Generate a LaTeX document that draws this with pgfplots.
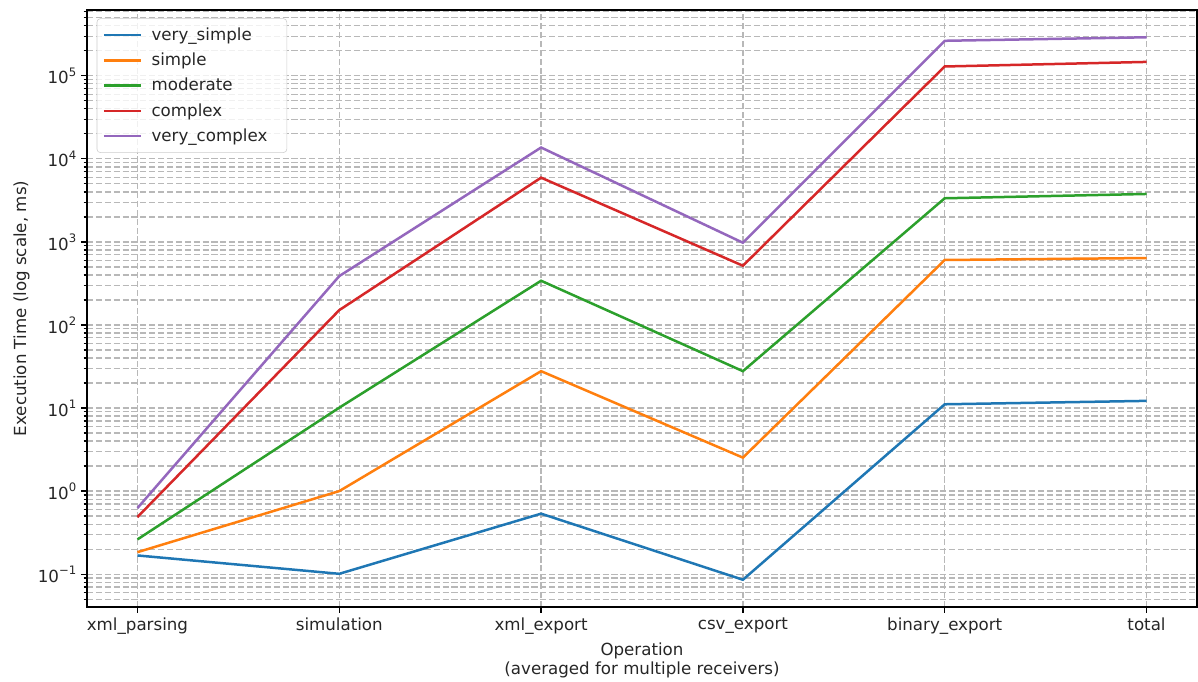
\documentclass[border=0pt]{standalone}
\usepackage{fontspec}
\setmainfont{DejaVu Sans}
\usepackage{pgfplots}
\pgfplotsset{compat=1.18}

\definecolor{c1}{HTML}{1F77B4}
\definecolor{c2}{HTML}{FF7F0E}
\definecolor{c3}{HTML}{2CA02C}
\definecolor{c4}{HTML}{D62728}
\definecolor{c5}{HTML}{9467BD}
\definecolor{gridc}{HTML}{B8B8B8}

\newcommand{\pw}[1]{10\raisebox{0.85ex}{\fontsize{8.4}{9}\selectfont #1}}

\begin{document}
\begin{tikzpicture}
\begin{axis}[
  at={(0,0)}, anchor=south west,
  scale only axis,
  width=799.2pt, height=429.8pt,
  ymode=log,
  xmin=-0.25, xmax=5.25,
  ymin=0.0403, ymax=6.2e5,
  xtick={0,1,2,3,4,5},
  xticklabels={xml\_parsing,simulation,xml\_export,csv\_export,binary\_export,total},
  ytick={0.1,1,10,100,1000,10000,100000},
  yticklabels={\pw{−1},\pw{0},\pw{1},\pw{2},\pw{3},\pw{4},\pw{5}},
  minor ytick={0.05,0.06,0.07,0.08,0.09,
    0.2,0.3,0.4,0.5,0.6,0.7,0.8,0.9,
    2,3,4,5,6,7,8,9,
    20,30,40,50,60,70,80,90,
    200,300,400,500,600,700,800,900,
    2000,3000,4000,5000,6000,7000,8000,9000,
    20000,30000,40000,50000,60000,70000,80000,90000,
    200000,300000,400000,500000,600000},
  tick pos=left,
  tick align=outside,
  major tick length=4.2pt,
  minor tick length=2.4pt,
  every tick/.style={black, line width=0.9pt},
  axis line style={line width=0.9pt},
  grid=both,
  major grid style={gridc, line width=0.9pt, dash pattern=on 4.4pt off 2pt},
  minor grid style={gridc, line width=0.9pt, dash pattern=on 4.4pt off 2pt},
  tick label style={font=\fontsize{12}{14}\selectfont, text=black!85},
  label style={font=\fontsize{12}{14}\selectfont, text=black!85},
  xlabel={Operation\\(averaged for multiple receivers)},
  xlabel style={align=center, yshift=1pt},
  ylabel={Execution Time (log scale, ms)},
  ylabel style={yshift=-1pt},
  legend cell align=left,
  legend style={
    at={(0,1)}, anchor=north west, xshift=7pt, yshift=-6pt,
    draw=black!20, rounded corners=2.5pt, fill=white, fill opacity=0.8, text opacity=1,
    font=\fontsize{12}{14}\selectfont, text=black!85,
    row sep=3.6pt, inner xsep=4pt, inner ysep=4.5pt,
    /tikz/every odd column/.append style={column sep=5pt}
  },
  legend image code/.code={\draw[#1, line width=1.8pt] (0pt,0pt) -- (26.5pt,0pt);},
  every axis plot/.append style={line width=1.8pt},
]
\addplot[c1] coordinates {(0,0.168) (1,0.101) (2,0.535) (3,0.0857) (4,11.1) (5,12.2)};
\addlegendentry{very\_simple}
\addplot[c2] coordinates {(0,0.184) (1,1.0) (2,27.8) (3,2.53) (4,606) (5,640)};
\addlegendentry{simple}
\addplot[c3] coordinates {(0,0.262) (1,10.1) (2,341) (3,27.8) (4,3355) (5,3780)};
\addlegendentry{moderate}
\addplot[c4] coordinates {(0,0.487) (1,151) (2,5940) (3,517) (4,129500) (5,147000)};
\addlegendentry{complex}
\addplot[c5] coordinates {(0,0.625) (1,388) (2,13700) (3,978) (4,264000) (5,291000)};
\addlegendentry{very\_complex\hspace*{8pt}}
\end{axis}
\pgfresetboundingbox
\useasboundingbox (-62.64pt,-54pt) rectangle (799.92pt,437pt);
\end{tikzpicture}
\end{document}
